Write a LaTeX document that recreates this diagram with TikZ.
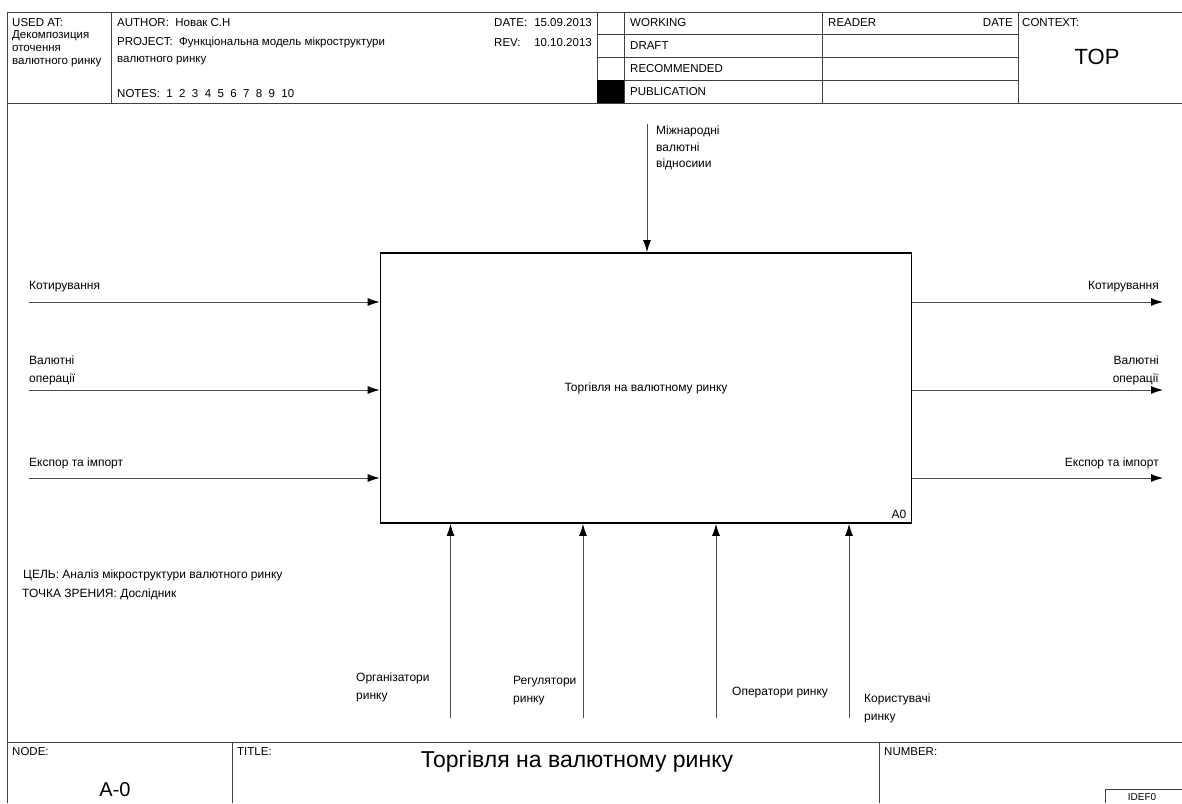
\documentclass[tikz,border=0pt]{standalone}
\usepackage{fontspec}
\setmainfont{Liberation Sans}
\usetikzlibrary{arrows.meta,positioning}

\tikzset{
  frame/.style={line width=0.8pt, draw=black!75},
  flow/.style={-{Latex[length=12pt,width=8pt,color=black]}, line width=0.8pt, draw=black!70},
  lbl/.style={inner sep=0pt, font=\fontsize{12}{18}\selectfont, align=left},
  hdr/.style={inner sep=0pt, font=\fontsize{11.5}{13}\selectfont, align=left},
}

\begin{document}
\begin{tikzpicture}[x=1pt,y=-1pt]
  \useasboundingbox (0,0) rectangle (1182,803);
  % 外框与表头
  \draw[frame] (7.5,803) -- (7.5,12) -- (1182,12);
  \draw[frame] (7.5,103) -- (1182,103);
  \foreach \x in {111,597,624,822,1018}
    \draw[frame] (\x,12) -- (\x,103);
  \foreach \y in {34,57,80}
    \draw[frame] (597,\y) -- (1018,\y);
  \fill[black] (597,80) rectangle (624,103);
  % 底部栏
  \draw[frame] (7.5,742) -- (1182,742);
  \draw[frame] (232,742) -- (232,803);
  \draw[frame] (879,742) -- (879,803);
  \draw[frame] (1105,803) -- (1105,789) -- (1182,789);

  % 表头文字
  \node[hdr, anchor=west] (usedat) at (12,23) {USED AT:};
  \node[hdr, anchor=west] (usedtxt) at (12,49) {Декомпозиция\\оточення\\валютного ринку};
  \node[hdr, anchor=west] (author) at (117,23) {AUTHOR:\ \ Новак С.Н};
  \node[hdr, anchor=west] (project) at (117,43) {PROJECT:\ \ Функціональна модель мікроструктури};
  \node[hdr, anchor=west] (project2) at (117,61) {валютного ринку};
  \node[hdr, anchor=west] (notes) at (117,94) {NOTES:\ \ 1\ \ 2\ \ 3\ \ 4\ \ 5\ \ 6\ \ 7\ \ 8\ \ 9\ \ 10};
  \node[hdr, anchor=west] (date) at (494,23) {DATE:};
  \node[hdr, anchor=east] (dateval) at (592,23) {15.09.2013};
  \node[hdr, anchor=west] (rev) at (494,43) {REV:};
  \node[hdr, anchor=east] (revval) at (592,43) {10.10.2013};
  \node[hdr, anchor=west] (working) at (630,23) {WORKING};
  \node[hdr, anchor=west] (draft) at (630,46) {DRAFT};
  \node[hdr, anchor=west] (recommended) at (630,69) {RECOMMENDED};
  \node[hdr, anchor=west] (publication) at (630,92) {PUBLICATION};
  \node[hdr, anchor=west] (reader) at (828,23) {READER};
  \node[hdr, anchor=east] (rdate) at (1013,23) {DATE};
  \node[hdr, anchor=west] (context) at (1022,23) {CONTEXT:};
  \node[inner sep=0pt, font=\fontsize{22}{24}\selectfont] (top) at (1097,57) {TOP};

  % 功能块
  \node[draw, line width=1.8pt, minimum width=531pt, minimum height=270pt, inner sep=0pt,
        font=\fontsize{12}{14}\selectfont] (box) at (646,388) {Торгівля на валютному ринку};
  \node[lbl, anchor=south east] (a0) at ([xshift=-6pt,yshift=5pt]box.south east) {A0};

  % 输入
  \coordinate (in1) at (29,302);
  \coordinate (in2) at (29,390);
  \coordinate (in3) at (29,478);
  \draw[flow] (in1) -- (in1 -| box.west);
  \draw[flow] (in2) -- (in2 -| box.west);
  \draw[flow] (in3) -- (in3 -| box.west);
  \node[lbl, anchor=west] (lin1) at (29,287) {Котирування};
  \node[lbl, anchor=west] (lin2) at (29,370) {Валютні\\операції};
  \node[lbl, anchor=west] (lin3) at (29,463) {Експор та імпорт};

  % 输出
  \coordinate (out1) at (1163,302);
  \coordinate (out2) at (1163,390);
  \coordinate (out3) at (1163,478);
  \draw[flow] (out1 -| box.east) -- (out1);
  \draw[flow] (out2 -| box.east) -- (out2);
  \draw[flow] (out3 -| box.east) -- (out3);
  \node[lbl, anchor=east, align=right] (lout1) at (1159,287) {Котирування};
  \node[lbl, anchor=east, align=right] (lout2) at (1159,370) {Валютні\\операції};
  \node[lbl, anchor=east, align=right] (lout3) at (1159,463) {Експор та імпорт};

  % 控制
  \coordinate (ctl) at (647,124);
  \draw[flow] (ctl) -- (ctl |- box.north);
  \node[lbl, anchor=west, font=\fontsize{12}{16.5}\selectfont] (lctl) at (656,148) {Міжнародні\\валютні\\відносиии};

  % 机制
  \coordinate (m1) at (450.5,718);
  \coordinate (m2) at (583,718);
  \coordinate (m3) at (716,718);
  \coordinate (m4) at (849,718);
  \foreach \m in {m1,m2,m3,m4}
    \draw[flow] (\m) -- (\m |- box.south);
  \node[lbl, anchor=west] (lm1) at (356,687) {Організатори\\ринку};
  \node[lbl, anchor=west] (lm2) at (513,691) {Регулятори\\ринку};
  \node[lbl, anchor=west] (lm3) at (732,693) {Оператори ринку};
  \node[lbl, anchor=west] (lm4) at (864,708) {Користувачі\\ринку};

  % 目的与视点
  \node[lbl, anchor=west] (goal) at (23,575) {ЦЕЛЬ: Аналіз мікроструктури валютного ринку};
  \node[lbl, anchor=west] (view) at (22,594) {ТОЧКА ЗРЕНИЯ: Дослідник};

  % 底部文字
  \node[hdr, anchor=west] (nodelbl) at (12,752) {NODE:};
  \node[inner sep=0pt, font=\fontsize{20}{24}\selectfont] (nodeval) at (115,790) {A-0};
  \node[hdr, anchor=west] (titlelbl) at (237,752) {TITLE:};
  \node[inner sep=0pt, font=\fontsize{23}{26}\selectfont] (title) at (577,762) {Торгівля на валютному ринку};
  \node[hdr, anchor=west] (numlbl) at (884,752) {NUMBER:};
  \node[inner sep=0pt, font=\fontsize{10}{12}\selectfont] (idef) at (1142,797) {IDEF0};
\end{tikzpicture}
\end{document}
